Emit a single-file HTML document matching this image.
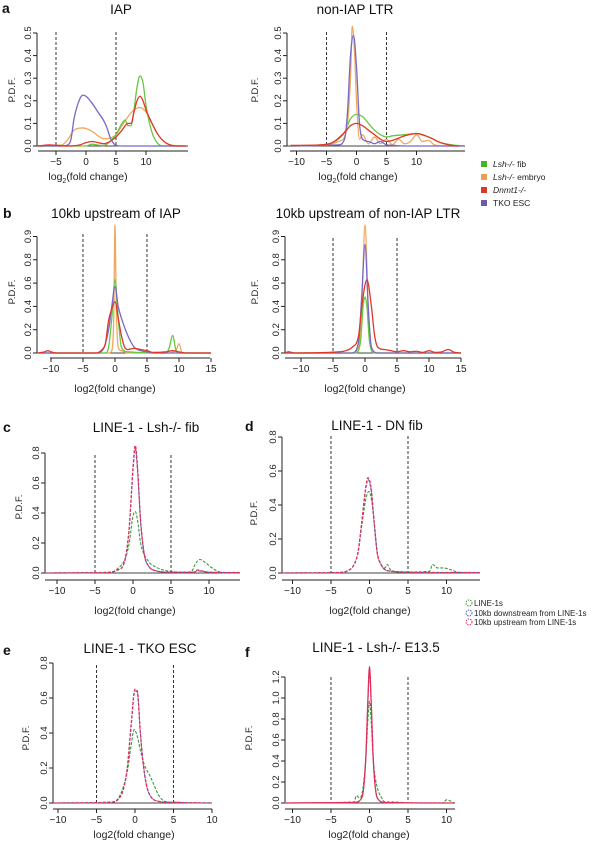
<!DOCTYPE html>
<html><head><meta charset="utf-8">
<style>
html,body{margin:0;padding:0;background:#fff}
svg{display:block;font-family:"Liberation Sans",sans-serif}
</style></head>
<body>
<svg id="fig" width="600" height="842" viewBox="0 0 600 842" xmlns="http://www.w3.org/2000/svg"></svg>
<script>
// ---------- DATA ----------
// Panel a – IAP
const aIapTkoX=[-8,-4,-3,-2.5,-2,-1,-0.5,0,1,2,3,3.5,4,4.5,5,6,16.7];
const aIapTkoY=[0,0,0.005,0.03,0.12,0.21,0.225,0.22,0.19,0.15,0.11,0.08,0.04,0.015,0.003,0,0];
const aIapEmbX=[-8,-4,-3,-2,-0.5,1,2,3,4,5,6,7,8,9,10,11,12,13,14,16.7];
const aIapEmbY=[0,0.005,0.03,0.07,0.08,0.065,0.045,0.032,0.035,0.05,0.09,0.13,0.16,0.17,0.15,0.10,0.05,0.02,0.005,0];
const aIapFibX=[-8,0,1,2,3,4,5,6,6.5,7,7.5,8,8.5,9,9.5,10,11,12,13,16.7];
const aIapFibY=[0,0,0.008,0.004,0.002,0.02,0.05,0.1,0.115,0.09,0.09,0.16,0.26,0.31,0.28,0.18,0.06,0.01,0,0];
const aIapDnmX=[-8,-6,-5,-3,-1,0,1,2,3,4,5,6,7,7.5,8,8.5,9,9.5,10,11,12,13,14,15,16.7];
const aIapDnmY=[0,0.005,0.003,0,0.005,0.015,0.02,0.015,0.01,0.02,0.04,0.07,0.1,0.1,0.15,0.2,0.22,0.2,0.16,0.1,0.05,0.02,0.005,0,0];
// Panel a – non-IAP LTR
const aLtrTkoX=[-11,-3,-2,-1.5,-1,-0.5,0,0.5,1,2,3,4,5,6,8,18];
const aLtrTkoY=[0,0.005,0.03,0.15,0.4,0.49,0.35,0.1,0.03,0.02,0.01,0.02,0.005,0.003,0,0];
const aLtrEmbX=[-11,-5,-3,-2,-1.5,-1,-0.7,-0.3,0,0.5,1,2,3,4,5,6,7,8,9,10,11,12,13,15,18];
const aLtrEmbY=[0.003,0.005,0.02,0.04,0.1,0.3,0.53,0.4,0.2,0.03,0.05,0.01,0.04,0.01,0.03,0.005,0.03,0.01,0.02,0.05,0.02,0.025,0.005,0,0];
const aLtrFibX=[-11,-6,-4,-2,-1,0,1,2,3,4,5,6,8,10,12,14,16,18];
const aLtrFibY=[0,0.005,0.015,0.06,0.12,0.14,0.13,0.1,0.07,0.05,0.04,0.045,0.05,0.055,0.04,0.015,0.005,0];
const aLtrDnmX=[-11,-6,-4,-2,-1,0,1,2,3,4,5,6,8,10,12,14,16,17];
const aLtrDnmY=[0.002,0.005,0.015,0.06,0.09,0.1,0.09,0.07,0.05,0.03,0.02,0.025,0.045,0.055,0.04,0.015,0.002,0];
// Panel b – 10kb upstream of IAP
const bIapEmbX=[-12,-1,-0.5,-0.2,0,0.2,0.5,1,2,8,9.5,10,10.5,15];
const bIapEmbY=[0,0,0.02,0.3,1.1,0.4,0.05,0.02,0,0,0.02,0.08,0,0];
const bIapFibX=[-12,-1.5,-1,-0.5,0,0.5,1,2,8,8.5,9,9.5,10,15];
const bIapFibY=[0,0,0.05,0.3,0.63,0.3,0.05,0.01,0,0.05,0.15,0.03,0,0];
const bIapTkoX=[-12,-3,-2,-1,-0.5,0,0.5,1,2,3,4,5,6,15];
const bIapTkoY=[0,0,0.02,0.2,0.4,0.57,0.4,0.3,0.15,0.05,0.02,0.01,0,0];
const bIapDnmX=[-12,-11,-10.5,-10,-9,-3,-2,-1.5,-1,-0.5,0,0.5,1,1.5,2,3,4,5,6,8,9,10,11,15];
const bIapDnmY=[0,0.01,0.02,0.01,0,0,0.03,0.08,0.28,0.38,0.44,0.3,0.15,0.05,0.03,0.04,0.03,0.02,0.005,0.01,0.02,0.01,0,0];
// Panel b – 10kb upstream of non-IAP LTR
const bLtrEmbX=[-12.5,-2,-1,-0.5,0,0.5,1,2,15];
const bLtrEmbY=[0,0,0.05,0.4,1.1,0.4,0.05,0,0];
const bLtrTkoX=[-12.5,-2,-1,-0.5,0,0.5,1,2,15];
const bLtrTkoY=[0,0,0.1,0.5,0.93,0.4,0.05,0,0];
const bLtrFibX=[-12.5,-1.5,-0.7,-0.3,0,0.3,0.7,1.5,15];
const bLtrFibY=[0,0,0.1,0.4,0.48,0.4,0.1,0,0];
const bLtrDnmX=[-12.5,-12,-11,-4,-3,-2,-1,-0.5,0.3,1,1.5,2,3,4,5,6,7,8,9,10,11,12,13,14,15];
const bLtrDnmY=[0,0.01,0,0.01,0.02,0.05,0.15,0.4,0.63,0.4,0.15,0.05,0.03,0.02,0.01,0.02,0.01,0.015,0.005,0.02,0.005,0.01,0.03,0.005,0];
// Panel c – LINE-1 Lsh-/- fib
const cUpX=[-11.6,-4,-2,-1,-0.5,0,0.3,0.6,1,1.5,2,3,5,8,8.5,9,10,14];
const cUpY=[0,0.003,0.02,0.1,0.3,0.7,0.85,0.7,0.35,0.12,0.05,0.015,0.005,0.005,0.02,0.015,0.005,0.003];
const cDownX=[-11.6,-4,-2,-1,-0.5,0,0.3,0.6,1,1.5,2,3,5,8,8.5,9,10,14];
const cDownY=[0,0.003,0.02,0.1,0.3,0.68,0.83,0.68,0.34,0.12,0.05,0.015,0.005,0.005,0.015,0.012,0.005,0.003];
const cLineX=[-11.6,-3,-2,-1,-0.5,0,0.3,0.6,1,2,3,4,5,7,7.7,8.2,8.8,9.5,10.5,11.5,12,14];
const cLineY=[0,0.005,0.03,0.1,0.2,0.38,0.41,0.35,0.2,0.08,0.04,0.02,0.01,0.005,0.01,0.06,0.09,0.07,0.03,0.005,0,0];
// Panel d – LINE-1 DN fib
const dUpX=[-11.4,-4,-3,-2,-1.5,-1,-0.5,-0.2,0.2,0.6,1,1.5,2,3,5,8,14.3];
const dUpY=[0,0.003,0.01,0.05,0.12,0.3,0.5,0.56,0.5,0.3,0.12,0.05,0.02,0.01,0.005,0.003,0.003];
const dDownX=[-11.4,-4,-3,-2,-1.5,-1,-0.5,-0.2,0.2,0.6,1,1.5,2,3,5,8,14.3];
const dDownY=[0,0.003,0.01,0.05,0.12,0.3,0.49,0.55,0.49,0.3,0.12,0.05,0.02,0.01,0.005,0.003,0.003];
const dLineX=[-11.4,-4,-3,-2,-1.5,-1,-0.5,-0.1,0.3,0.7,1,1.5,2,2.3,2.7,4,7.8,8.2,8.8,9.5,10.5,11.5,14.3];
const dLineY=[0,0.003,0.01,0.05,0.12,0.28,0.43,0.48,0.42,0.26,0.12,0.05,0.03,0.05,0.02,0.005,0.01,0.05,0.03,0.03,0.02,0.005,0];
// Panel e – LINE-1 TKO ESC
const eUpX=[-10.6,-3,-2,-1.5,-1,-0.5,0,0.3,0.7,1,1.5,2,3,5,10];
const eUpY=[0,0.005,0.03,0.08,0.2,0.45,0.65,0.64,0.4,0.25,0.1,0.04,0.01,0.003,0];
const eDownX=[-10.6,-3,-2,-1.5,-1,-0.5,0,0.3,0.7,1,1.5,2,3,5,10];
const eDownY=[0,0.005,0.03,0.08,0.2,0.44,0.64,0.63,0.4,0.25,0.1,0.04,0.01,0.003,0];
const eLineX=[-10.6,-3,-2,-1,-0.5,-0.1,0.3,0.7,1.2,2,2.5,3,3.5,4.5,5.5,7,10];
const eLineY=[0,0.005,0.04,0.18,0.33,0.42,0.38,0.3,0.22,0.15,0.1,0.05,0.02,0.005,0.005,0,0];
// Panel f – LINE-1 Lsh-/- E13.5
const fUpX=[-11,-2,-1,-0.5,-0.2,0,0.2,0.5,1,2,11];
const fUpY=[0,0.005,0.05,0.4,1.0,1.3,1.0,0.4,0.05,0.005,0];
const fDownX=[-11,-2,-1,-0.5,-0.2,0,0.2,0.5,1,2,11];
const fDownY=[0,0.005,0.05,0.4,0.98,1.28,0.98,0.4,0.05,0.005,0];
const fLineX=[-11,-2,-1.7,-1.3,-1,-0.5,-0.2,0,0.2,0.5,1,1.5,2,3,5,9.5,10,10.5,11];
const fLineY=[0,0.01,0.07,0.05,0.08,0.4,0.8,0.97,0.8,0.4,0.15,0.06,0.01,0.01,0,0,0.03,0.02,0];
// Tick values / labels
const yTicksA=[0,0.1,0.2,0.3,0.4,0.5];
const yTicksB=[0,0.2,0.4,0.6,0.8,1.0];
const yTickLabelsB=["0.0","0.2","0.4","0.6","0.8","0.9"];
const yTicksLine=[0,0.2,0.4,0.6,0.8];
const yTicksF=[0,0.2,0.4,0.6,0.8,1.0,1.2];
const xTicksAL=[-5,0,5,10];
const xTicksAR=[-10,-5,0,5,10];
const xTicksB=[-10,-5,0,5,10,15];
const xTicksLine=[-10,-5,0,5,10];
const cutoffs=[-5,5];

// ---------- DRAWING ----------
const NS="http://www.w3.org/2000/svg";
const svg=document.getElementById('fig');
function mk(tag,attrs,parent){const e=document.createElementNS(NS,tag);for(const k in attrs)e.setAttribute(k,attrs[k]);(parent||svg).appendChild(e);return e;}
function txt(s,attrs,parent){const e=mk('text',attrs,parent);e.textContent=s;return e;}
function monoPath(px,py){
  const n=px.length;const d=[],m=[];
  for(let i=0;i<n-1;i++)d.push((py[i+1]-py[i])/(px[i+1]-px[i]));
  m[0]=d[0];m[n-1]=d[n-2];
  for(let i=1;i<n-1;i++)m[i]=(d[i-1]*d[i]<=0)?0:(d[i-1]+d[i])/2;
  for(let i=0;i<n-1;i++){
    if(d[i]===0){m[i]=0;m[i+1]=0;continue;}
    const a=m[i]/d[i],b=m[i+1]/d[i],s=a*a+b*b;
    if(s>9){const t=3/Math.sqrt(s);m[i]=t*a*d[i];m[i+1]=t*b*d[i];}
  }
  let p="M"+px[0].toFixed(2)+","+py[0].toFixed(2);
  for(let i=0;i<n-1;i++){const h=(px[i+1]-px[i])/3;
    p+="C"+(px[i]+h).toFixed(2)+","+(py[i]+m[i]*h).toFixed(2)+" "+(px[i+1]-h).toFixed(2)+","+(py[i+1]-m[i+1]*h).toFixed(2)+" "+px[i+1].toFixed(2)+","+py[i+1].toFixed(2);}
  return p;
}
function panel(cfg){
  const g=mk('g',{});
  
  
  const X=v=>cfg.x0+v*cfg.xu, Y=v=>cfg.y0-v*cfg.yu;
  const t=txt(cfg.title,{x:cfg.tx,y:cfg.ty,'font-size':13.5,'text-anchor':'middle',fill:'#111'},g);
  
  if(cfg.letter){const l=txt(cfg.letter,{x:cfg.lx,y:cfg.ly,'font-size':14,'font-weight':'bold',fill:'#111'},g);
    }
  const ya=mk('g',{},g);
  const yt=cfg.yTicks;
  mk('line',{x1:cfg.ax,x2:cfg.ax,y1:Y(yt[0]),y2:Y(yt[yt.length-1]),stroke:'#222','stroke-width':1},ya);
  yt.forEach((v,i)=>{
    mk('line',{x1:cfg.ax-4,x2:cfg.ax,y1:Y(v),y2:Y(v),stroke:'#222','stroke-width':1},ya);
    const lab=cfg.yLabels?cfg.yLabels[i]:v.toFixed(1);
    const e=txt(lab,{x:0,y:0,'font-size':9.5,'text-anchor':'middle',fill:'#222',transform:`translate(${cfg.ax-6},${Y(v)}) rotate(-90)`},ya);
    
  });
  const yl=txt('P.D.F.',{x:0,y:0,'font-size':9.5,'text-anchor':'middle',fill:'#222',transform:`translate(${cfg.ylx},${cfg.yly}) rotate(-90)`},ya);
  
  const xa=mk('g',{},g);
  mk('line',{x1:cfg.xl1,x2:cfg.xl2,y1:cfg.xay,y2:cfg.xay,stroke:'#222','stroke-width':1},xa);
  cfg.xTicks.forEach(v=>{
    mk('line',{x1:X(v),x2:X(v),y1:cfg.xay,y2:cfg.xay+4,stroke:'#222','stroke-width':1},xa);
    const e=txt(v<0?'\u2212'+(-v):String(v),{x:X(v),y:cfg.xay+14,'font-size':10,'text-anchor':'middle',fill:'#222'},xa);
    
  });
  const xl=txt('',{x:cfg.xlx,y:cfg.xly,'font-size':10.5,'text-anchor':'middle',fill:'#222'},xa);
  
  if(cfg.sub){xl.textContent='log';const ts=mk('tspan',{'font-size':7,dy:3},xl);ts.textContent='2';const t2=mk('tspan',{dy:-3},xl);t2.textContent='(fold change)';}
  else xl.textContent='log2(fold change)';
  mk('line',{x1:cfg.ax,x2:cfg.xl2,y1:Y(0),y2:Y(0),stroke:'#444','stroke-width':1},g);
  cutoffs.forEach(v=>{const c=mk('line',{x1:X(v),x2:X(v),y1:cfg.dTop,y2:Y(0),stroke:'#222','stroke-width':0.9,'stroke-dasharray':'3,2'},g);
    });
  cfg.series.forEach(s=>{
    const px=s.x.map(X),py=s.y.map(Y);
    const p=mk('path',{d:monoPath(px,py),fill:'none',stroke:s.c,'stroke-width':s.w||1.3,'stroke-linejoin':'round'},g);
    if(s.dash)p.setAttribute('stroke-dasharray',s.dash);
    
    
  });
}
const G='#66c840',O='#f0a860',R='#e03828',P='#7868c8';
const LG='#3a9a3a',LB='#5060c8',LR='#e0305a';
panel({name:'panel-a-iap',title:'IAP',tx:121,ty:14,letter:'a',lx:2,ly:13,x0:86,xu:6,y0:146,yu:226,ax:37,yTicks:yTicksA,ylx:15,yly:90,
  xay:151,xl1:38,xl2:188,xTicks:xTicksAL,xlx:88,xly:180,sub:true,dTop:32,
  series:[{x:aIapEmbX,y:aIapEmbY,c:O,n:'series-lsh-embryo'},{x:aIapFibX,y:aIapFibY,c:G,n:'series-lsh-fib'},{x:aIapTkoX,y:aIapTkoY,c:P,n:'series-tko-esc'},{x:aIapDnmX,y:aIapDnmY,c:R,n:'series-dnmt1'}]});
panel({name:'panel-a-non-iap-ltr',title:'non-IAP LTR',tx:355,ty:14,x0:356.5,xu:6,y0:146,yu:226,ax:287,yTicks:yTicksA,ylx:258,yly:90,
  xay:151,xl1:290,xl2:465,xTicks:xTicksAR,xlx:358,xly:180,sub:true,dTop:32,
  series:[{x:aLtrFibX,y:aLtrFibY,c:G,n:'series-lsh-fib'},{x:aLtrEmbX,y:aLtrEmbY,c:O,n:'series-lsh-embryo'},{x:aLtrTkoX,y:aLtrTkoY,c:P,n:'series-tko-esc'},{x:aLtrDnmX,y:aLtrDnmY,c:R,n:'series-dnmt1'}]});
panel({name:'panel-b-iap-upstream',title:'10kb upstream of IAP',tx:116,ty:218,letter:'b',lx:3,ly:218,x0:115,xu:6.4,y0:353,yu:116.5,ax:37,yTicks:yTicksB,yLabels:yTickLabelsB,ylx:15,yly:292,
  xay:358,xl1:50,xl2:210,xTicks:xTicksB,xlx:115,xly:392,sub:false,dTop:234,
  series:[{x:bIapEmbX,y:bIapEmbY,c:O,n:'series-lsh-embryo'},{x:bIapFibX,y:bIapFibY,c:G,n:'series-lsh-fib'},{x:bIapTkoX,y:bIapTkoY,c:P,n:'series-tko-esc'},{x:bIapDnmX,y:bIapDnmY,c:R,n:'series-dnmt1'}]});
panel({name:'panel-b-ltr-upstream',title:'10kb upstream of non-IAP LTR',tx:368,ty:218,x0:365,xu:6.4,y0:353,yu:116.5,ax:285,yTicks:yTicksB,yLabels:yTickLabelsB,ylx:258,yly:292,
  xay:358,xl1:285,xl2:461,xTicks:xTicksB,xlx:365,xly:392,sub:false,dTop:238,
  series:[{x:bLtrEmbX,y:bLtrEmbY,c:O,n:'series-lsh-embryo'},{x:bLtrFibX,y:bLtrFibY,c:G,n:'series-lsh-fib'},{x:bLtrTkoX,y:bLtrTkoY,c:P,n:'series-tko-esc'},{x:bLtrDnmX,y:bLtrDnmY,c:R,n:'series-dnmt1'}]});
const dsh='3,1.5';
panel({name:'panel-c-line1-lsh-fib',title:'LINE-1 - Lsh-/- fib',tx:146,ty:432,letter:'c',lx:3,ly:432,x0:133,xu:7.6,y0:573,yu:150,ax:45,yTicks:yTicksLine,ylx:22,yly:507,
  xay:580,xl1:45,xl2:240,xTicks:xTicksLine,xlx:135,xly:614,sub:false,dTop:455,
  series:[{x:cLineX,y:cLineY,c:LG,n:'series-line1s',dash:dsh,w:1.1},{x:cDownX,y:cDownY,c:LB,n:'series-downstream',dash:dsh,w:1.1},{x:cUpX,y:cUpY,c:LR,n:'series-upstream',dash:dsh,w:1.3}]});
panel({name:'panel-d-line1-dn-fib',title:'LINE-1 - DN fib',tx:377,ty:430,letter:'d',lx:245,ly:431,x0:369.5,xu:7.7,y0:573,yu:170,ax:282,yTicks:yTicksLine,ylx:257,yly:513,
  xay:580,xl1:282,xl2:480,xTicks:xTicksLine,xlx:370,xly:614,sub:false,dTop:436,
  series:[{x:dLineX,y:dLineY,c:LG,n:'series-line1s',dash:dsh,w:1.1},{x:dDownX,y:dDownY,c:LB,n:'series-downstream',dash:dsh,w:1.1},{x:dUpX,y:dUpY,c:LR,n:'series-upstream',dash:dsh,w:1.3}]});
panel({name:'panel-e-line1-tko-esc',title:'LINE-1 - TKO ESC',tx:140,ty:653,letter:'e',lx:3,ly:655,x0:135,xu:7.7,y0:803,yu:175,ax:53,yTicks:yTicksLine,ylx:29,yly:738,
  xay:809,xl1:53,xl2:212,xTicks:xTicksLine,xlx:134,xly:838,sub:false,dTop:665,
  series:[{x:eLineX,y:eLineY,c:LG,n:'series-line1s',dash:dsh,w:1.1},{x:eDownX,y:eDownY,c:LB,n:'series-downstream',dash:dsh,w:1.1},{x:eUpX,y:eUpY,c:LR,n:'series-upstream',dash:dsh,w:1.3}]});
panel({name:'panel-f-line1-lsh-e13',title:'LINE-1 - Lsh-/- E13.5',tx:376,ty:652,letter:'f',lx:245,ly:657,x0:369.5,xu:7.7,y0:803,yu:105,ax:285,yTicks:yTicksF,ylx:252,yly:738,
  xay:809,xl1:285,xl2:455,xTicks:xTicksLine,xlx:369,xly:838,sub:false,dTop:677,
  series:[{x:fLineX,y:fLineY,c:LG,n:'series-line1s',dash:dsh,w:1.1},{x:fDownX,y:fDownY,c:LB,n:'series-downstream',dash:dsh,w:1.1},{x:fUpX,y:fUpY,c:LR,n:'series-upstream',w:1.3}]});

const leg1=mk('g',{});
[[ '#3cb828','Lsh-/-',' fib',164],['#e8a050','Lsh-/-',' embryo',177],['#d83a28','Dnmt1-/-','',190],['#6a5ab0','','TKO ESC',203]].forEach(r=>{
  const e=mk('g',{},leg1);
  mk('rect',{x:481,y:r[3]-3,width:6,height:6,fill:r[0]},e);
  const t=mk('text',{x:493,y:r[3]+3,'font-size':8.5,fill:'#222'},e);
  if(r[1]){const i=mk('tspan',{'font-style':'italic'},t);i.textContent=r[1];}
  if(r[2]){const n=mk('tspan',{},t);n.textContent=r[2];}
});
const leg2=mk('g',{});
[[LG,'LINE-1s',603],[LB,'10kb downstream from LINE-1s',613],[LR,'10kb upstream from LINE-1s',622]].forEach(r=>{
  const e=mk('g',{},leg2);
  mk('circle',{cx:469,cy:r[2],r:3,fill:'none',stroke:r[0],'stroke-width':1,'stroke-dasharray':'1.5,1'},e);
  txt(r[1],{x:474,y:r[2]+3,'font-size':8,fill:'#222'},e);
});
</script>
</body></html>
